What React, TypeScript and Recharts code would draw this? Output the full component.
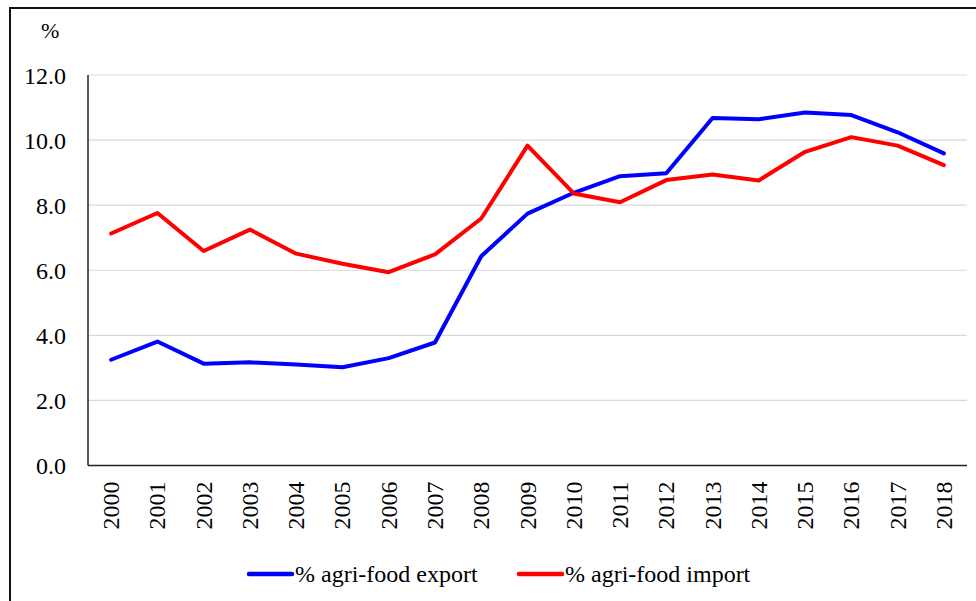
import React from 'react';
import { LineChart, Line, XAxis, YAxis, CartesianGrid } from 'recharts';

const years = ['2000','2001','2002','2003','2004','2005','2006','2007','2008','2009','2010','2011','2012','2013','2014','2015','2016','2017','2018'];
const exportShare = [3.25, 3.81, 3.13, 3.17, 3.10, 3.02, 3.30, 3.78, 6.43, 7.74, 8.38, 8.89, 8.98, 10.68, 10.64, 10.85, 10.77, 10.24, 9.59];
const importShare = [7.13, 7.76, 6.59, 7.25, 6.51, 6.20, 5.94, 6.49, 7.59, 9.83, 8.36, 8.09, 8.77, 8.94, 8.76, 9.64, 10.09, 9.83, 9.23];
const yTicks = [0, 2, 4, 6, 8, 10, 12];
const seriesNames = ['% agri-food export', '% agri-food import'];

const data = years.map((y, i) => ({ year: y, exp: exportShare[i], imp: importShare[i] }));

const FONT = "Liberation Serif, Tinos, Times New Roman, Nimbus Roman, DejaVu Serif, serif";

const XTick = (props: any) => {
  const { x, y, payload } = props;
  return (
    <text
      x={x}
      y={y}
      transform={`rotate(-90 ${x} ${y})`}
      textAnchor="end"
      dominantBaseline="central"
      style={{ fontFamily: FONT, fontSize: 24 }}
      fill="#000"
    >
      {payload.value}
    </text>
  );
};

export default function App() {
  return (
    <div style={{ position: 'absolute', left: 0, top: 0, width: 976, height: 601, overflow: 'hidden', background: '#fff', fontFamily: FONT }}>
      <div style={{ position: 'absolute', left: 9, top: 7, width: 965, height: 592, borderTop: '2px solid #111', borderLeft: '2px solid #111' }} />
      <div style={{ position: 'absolute', left: 41, top: 19, fontFamily: FONT, fontSize: 22, lineHeight: '24px', color: '#000' }}>%</div>
      <LineChart width={976} height={601} data={data} margin={{ top: 75, right: 9, left: 0, bottom: 75.5 }} style={{ position: 'absolute', left: 0, top: 0 }}>
        <CartesianGrid vertical={false} stroke="#d9d9d9" strokeWidth={1.2} />
        <XAxis
          dataKey="year"
          interval={0}
          height={60}
          padding={{ left: 23.13, right: 23.13 }}
          tickLine={false}
          tickSize={0}
          tickMargin={16}
          axisLine={{ stroke: '#222', strokeWidth: 1.5 }}
          tick={<XTick />}
        />
        <YAxis
          width={88}
          domain={[0, 12]}
          ticks={yTicks}
          interval={0}
          tickLine={false}
          tickSize={0}
          tickMargin={22}
          axisLine={{ stroke: '#222', strokeWidth: 1.5 }}
          tickFormatter={(v: number) => v.toFixed(1)}
          tick={{ style: { fontFamily: FONT, fontSize: 24 }, fill: '#000' }}
        />
        <Line type="linear" dataKey="exp" name={seriesNames[0]} stroke="#0000ff" strokeWidth={4} dot={false} activeDot={false} strokeLinejoin="round" strokeLinecap="round" isAnimationActive={false} />
        <Line type="linear" dataKey="imp" name={seriesNames[1]} stroke="#ff0000" strokeWidth={4} dot={false} activeDot={false} strokeLinejoin="round" strokeLinecap="round" isAnimationActive={false} />
      </LineChart>
      <svg width={976} height={601} style={{ position: 'absolute', left: 0, top: 0, pointerEvents: 'none' }}>
        <line x1={249} x2={292} y1={574} y2={574} stroke="#0000ff" strokeWidth={4.5} strokeLinecap="round" />
        <text x={295} y={582} style={{ fontFamily: FONT, fontSize: 24 }} fill="#000">{seriesNames[0]}</text>
        <line x1={519} x2={562} y1={574} y2={574} stroke="#ff0000" strokeWidth={4.5} strokeLinecap="round" />
        <text x={565} y={582} style={{ fontFamily: FONT, fontSize: 24 }} fill="#000">{seriesNames[1]}</text>
      </svg>
    </div>
  );
}
